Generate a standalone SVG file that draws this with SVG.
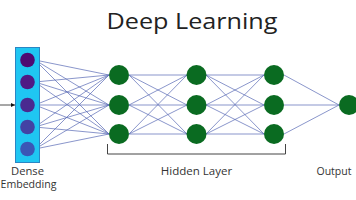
<svg xmlns="http://www.w3.org/2000/svg" width="356" height="200" viewBox="0 0 356 200">
<defs>
<style>
.ln{stroke:#5868b4;stroke-width:0.7;fill:none}
.g{fill:#0a6b21}
.lbl{font-family:"Open Sans","Liberation Sans",sans-serif;font-size:10px;fill:#333;text-anchor:middle}
.title{font-family:"Open Sans","Liberation Sans",sans-serif;font-size:22px;fill:#222;text-anchor:middle}
</style>
<marker id="ah" viewBox="0 0 6 6" refX="6" refY="3" markerWidth="5" markerHeight="5" orient="auto"><path d="M0,0 L6,3 L0,6 z" fill="#111"/></marker>
</defs>
<rect width="356" height="200" fill="#fff"/>
<text class="title" x="192" y="29" textLength="171" lengthAdjust="spacingAndGlyphs">Deep Learning</text>
<g id="connectors">
<line x1="0" y1="105" x2="15" y2="105" stroke="#222" stroke-width="0.8" marker-end="url(#ah)"/>
<g class="ln">
<path d="M35,60 L109,75 M35,60 L109,105 M35,60 L109,134
M35,82 L109,75 M35,82 L109,105 M35,82 L109,134
M35,105 L109,75 M35,105 L109,105 M35,105 L109,134
M35,127 L109,75 M35,127 L109,105 M35,127 L109,134
M35,149 L109,75 M35,149 L109,105 M35,149 L109,134"/>
<path d="M129,75 L187,75 M129,75 L187,105 M129,75 L187,134
M129,105 L187,75 M129,105 L187,105 M129,105 L187,134
M129,134 L187,75 M129,134 L187,105 M129,134 L187,134"/>
<path d="M206,75 L264,75 M206,75 L264,105 M206,75 L264,134
M206,105 L264,75 M206,105 L264,105 M206,105 L264,134
M206,134 L264,75 M206,134 L264,105 M206,134 L264,134"/>
<path d="M284,75 L339,105 M284,105 L339,105 M284,134 L339,105"/>
</g>
</g>
<g id="embedding">
<rect x="15.5" y="47.5" width="24" height="115" fill="#1fc6f2" stroke="#2a86c4" stroke-width="1"/>
<circle cx="27.5" cy="60" r="7.3" fill="#4e0a72"/>
<circle cx="27.5" cy="82" r="7.3" fill="#4f1a84"/>
<circle cx="27.5" cy="105" r="7.3" fill="#4a2a90"/>
<circle cx="27.5" cy="127" r="7.3" fill="#4342a4"/>
<circle cx="27.5" cy="149" r="7.3" fill="#3b56b6"/>
</g>
<g id="hidden1"><circle class="g" cx="119" cy="75" r="10"/><circle class="g" cx="119" cy="105" r="10"/><circle class="g" cx="119" cy="134" r="10"/></g>
<g id="hidden2"><circle class="g" cx="196.5" cy="75" r="10"/><circle class="g" cx="196.5" cy="105" r="10"/><circle class="g" cx="196.5" cy="134" r="10"/></g>
<g id="hidden3"><circle class="g" cx="274" cy="75" r="10"/><circle class="g" cx="274" cy="105" r="10"/><circle class="g" cx="274" cy="134" r="10"/></g>
<g id="output"><circle class="g" cx="349" cy="105" r="10"/></g>
<g id="bracket"><path d="M107.5,144 L107.5,154 L285.5,154 L285.5,144" fill="none" stroke="#444" stroke-width="1"/></g>
<g id="labels">
<text class="lbl" x="27.5" y="174.5" textLength="33" lengthAdjust="spacingAndGlyphs">Dense</text>
<text class="lbl" x="0.5" y="188" style="text-anchor:start" textLength="56" lengthAdjust="spacingAndGlyphs">Embedding</text>
<text class="lbl" x="196.5" y="175" textLength="71.5" lengthAdjust="spacingAndGlyphs">Hidden Layer</text>
<text class="lbl" x="334" y="175" textLength="35" lengthAdjust="spacingAndGlyphs">Output</text>
</g>
</svg>
